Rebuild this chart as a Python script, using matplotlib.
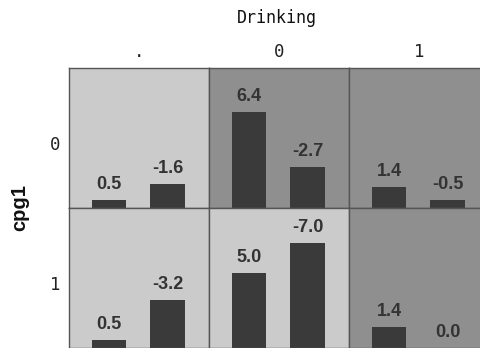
import matplotlib
matplotlib.use("Agg")
import matplotlib.pyplot as plt

col_labels = [".", "0", "1"]
row_labels = ["0", "1"]
# values[row][col] = (bar1, bar2)
values_row0 = [(0.5, -1.6), (6.4, -2.7), (1.4, -0.5)]
values_row1 = [(0.5, -3.2), (5.0, -7.0), (1.4, 0.0)]
values = [values_row0, values_row1]
# background shading per cell
shade_row0 = ["light", "dark", "dark"]
shade_row1 = ["light", "light", "dark"]
shades = [shade_row0, shade_row1]

colors = {"light": "#cbcbcb", "dark": "#8f8f8f"}
bar_color = "#3a3a3a"
text_color = "#333333"

W, H = 481, 348
fig = plt.figure(figsize=(W / 100, H / 100), dpi=100)

left_px, top_px = 69, 68.3
cell_w, cell_h = 140, 139.6

ymax = cell_h / 15.0

for r in range(2):
    for c in range(3):
        x0 = left_px + c * cell_w
        y0 = top_px + r * cell_h
        ax = fig.add_axes([x0 / W, 1 - (y0 + cell_h) / H, cell_w / W, cell_h / H])
        ax.set_facecolor(colors[shades[r][c]])
        vals = values[r][c]
        xs = [0, 1]
        heights = [abs(v) for v in vals]
        ax.bar(xs, heights, width=0.59, color=bar_color, zorder=2)
        for x, h, v in zip(xs, heights, vals):
            ax.annotate(f"{v:.1f}", (x, h), xytext=(0, 5), textcoords="offset points",
                        ha="center", va="bottom", fontsize=13, fontweight="bold",
                        color=text_color, family="Liberation Sans")
        ax.set_xlim(-0.684, 1.708)
        ax.set_ylim(0, ymax)
        ax.set_xticks([])
        ax.set_yticks([])
        for s in ax.spines.values():
            s.set_color("#555555")
            s.set_linewidth(1.0)

mono = "DejaVu Sans Mono"
fig.text(277 / W, 1 - 18 / H, "Drinking", ha="center", va="center", fontsize=12,
         family=mono, color="#111111")
for c, lab in enumerate(col_labels):
    fig.text((left_px + (c + 0.5) * cell_w) / W, 1 - 52 / H, lab, ha="center", va="center",
             fontsize=12.5, family=mono, color="#222222")
for r, lab in enumerate(row_labels):
    fig.text(60 / W, 1 - (top_px + (r + 0.5) * cell_h + 7) / H, lab, ha="right", va="center",
             fontsize=12.5, family=mono, color="#222222")
fig.text(20 / W, 1 - 208 / H, "cpg1", ha="center", va="center", rotation=90,
         fontsize=14.5, fontweight="bold", family="Liberation Sans", color="#111111")

fig.savefig("out.png", dpi=100)
